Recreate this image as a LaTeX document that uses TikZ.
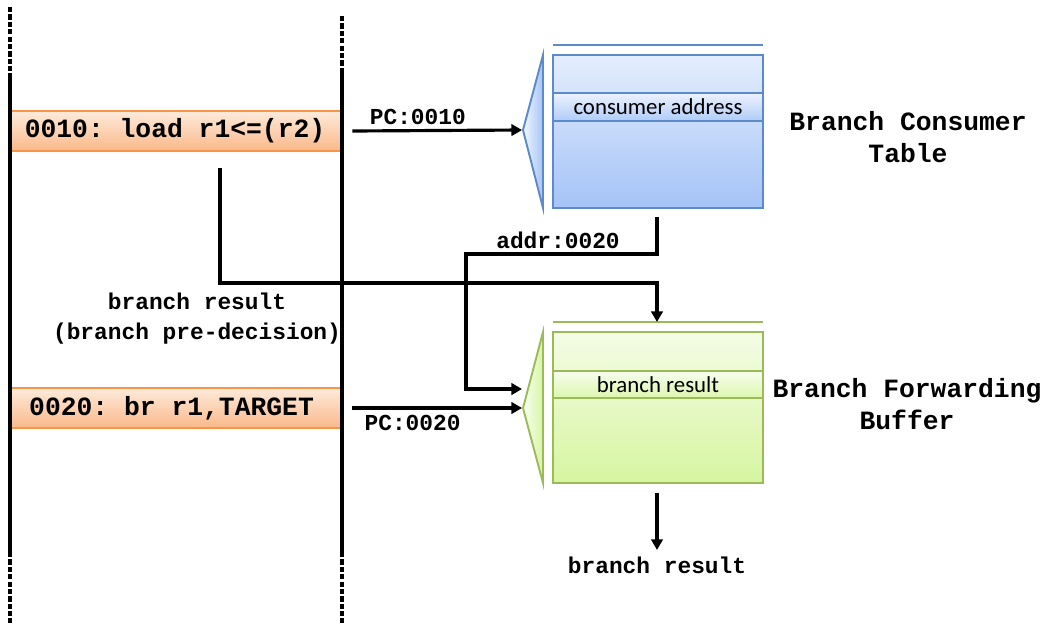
\documentclass[tikz,border=0pt]{standalone}
\usepackage{fontspec}
\setmainfont{Liberation Serif}
\newfontfamily\codefont{Liberation Mono}
\newfontfamily\cellfont{Carlito}
\usetikzlibrary{arrows.meta,positioning,calc}

\definecolor{bctborder}{HTML}{5B8BC9}
\definecolor{bcttop}{HTML}{E4EDFD}
\definecolor{bctbottom}{HTML}{A4C3F7}
\definecolor{bfbborder}{HTML}{9BBB59}
\definecolor{bfbtop}{HTML}{F4FCE6}
\definecolor{bfbbottom}{HTML}{D6F5A0}
\definecolor{insborder}{HTML}{F79646}
\definecolor{instop}{HTML}{FDEADA}
\definecolor{insbottom}{HTML}{FAB98A}

\begin{document}
\begin{tikzpicture}[x=0.02cm,y=-0.02cm]
    \tikzstyle{wire}=[line width=1.8pt, -{Triangle[length=6pt,width=6.5pt]}]
    \tikzstyle{timeline}=[line width=2pt]
    \tikzstyle{dashpart}=[line width=2pt, dash pattern=on 3pt off 1.2pt]
    \tikzstyle{code}=[font=\codefont\bfseries\frenchspacing\fontsize{15}{18}\selectfont];
    \tikzstyle{lbl}=[font=\codefont\bfseries\frenchspacing\fontsize{13}{17}\selectfont, align=center];
    \tikzstyle{cell}=[font=\cellfont\fontsize{13}{15}\selectfont];
    \useasboundingbox (0,0) rectangle (1050,623);

    % instructions
    \node[minimum width=6.6cm, minimum height=0.78cm, top color=instop, bottom color=insbottom,
        inner sep=0pt] (ins1) at (175,131) {};
    \draw[insborder, line width=1.2pt] (ins1.north west) -- (ins1.north east)
        (ins1.south west) -- (ins1.south east);
    \node[code] at (ins1) {0010: load r1<=(r2)};
    \node[minimum width=6.6cm, minimum height=0.78cm, top color=instop, bottom color=insbottom,
        inner sep=0pt] (ins2) at (175,408) {};
    \draw[insborder, line width=1.2pt] (ins2.north west) -- (ins2.north east)
        (ins2.south west) -- (ins2.south east);
    \node[code, anchor=west] at (23,408) {0020: br r1,TARGET};

    % time lines
    \draw[dashpart] (10,7) -- (10,76);
    \draw[timeline] (10,76) -- (10,552);
    \draw[dashpart] (10,552) -- (10,623);
    \draw[dashpart] (342,16) -- (342,72);
    \draw[timeline] (342,72) -- (342,552);
    \draw[dashpart] (342,552) -- (342,623);

    % branch consumer table
    \node[draw=bctborder, line width=1.1pt, minimum width=4.2cm, minimum height=3.06cm,
        top color=bcttop, bottom color=bctbottom, inner sep=0pt] (bct) at (658,131.5) {};
    \node[draw=bctborder, line width=1.1pt, minimum width=4.2cm, minimum height=0.56cm,
        top color=bcttop!70!white, bottom color=bctbottom!80!bcttop, inner sep=0pt, cell]
        (bctrow) at (658,107) {consumer address};
    \draw[bctborder, line width=1.1pt] (553,45) -- (763,45);
    \draw[bctborder, line width=1.1pt, left color=bcttop!40!white, right color=bctbottom]
        (543,55) -- (523,130) -- (543,208) -- cycle;
    \coordinate (bctin) at (522,130);
    \node[lbl, font=\codefont\bfseries\fontsize{15}{18}\selectfont] at (908,137)
        {Branch Consumer\\Table};

    % branch forwarding buffer
    \node[draw=bfbborder, line width=1.1pt, minimum width=4.2cm, minimum height=3.02cm,
        top color=bfbtop, bottom color=bfbbottom, inner sep=0pt] (bfb) at (658,407.5) {};
    \node[draw=bfbborder, line width=1.1pt, minimum width=4.2cm, minimum height=0.54cm,
        top color=bfbtop!70!white, bottom color=bfbbottom!80!bfbtop, inner sep=0pt, cell]
        (bfbrow) at (658,384.5) {branch result};
    \draw[bfbborder, line width=1.1pt] (553,322) -- (763,322);
    \draw[bfbborder, line width=1.1pt, left color=bfbtop!40!white, right color=bfbbottom]
        (543,332) -- (523,408) -- (543,483) -- cycle;
    \coordinate (bfbin) at (522,408);
    \coordinate (bfbaddr) at (522,389);
    \coordinate (bfbtopin) at (657,322);
    \node[lbl, font=\codefont\bfseries\fontsize{15}{18}\selectfont] at (907,404)
        {Branch Forwarding\\Buffer};

    % connectors
    \draw[wire] ($(ins1.east)+(12,0)$) -- node[lbl, above=-1pt, xshift=-11pt] {PC:0010} (bctin);
    \draw[wire] ($(ins2.east)+(12,0)$) -- node[lbl, below=0pt, xshift=-14pt] {PC:0020} (bfbin);
    \coordinate (brsrc) at (220,168);
    \draw[wire] (brsrc) -- (220,283) -| (bfbtopin);
    \node[lbl] at (197,319) {branch result\\(branch pre-decision)};
    \draw[wire] ($(bct.south)+(-1,8)$) |- (466,254) |- (bfbaddr);
    \node[lbl] at (558,240) {addr:0020};
    \draw[wire] ($(bfb.south)+(-1,9)$) -- ++(0,57) node[lbl, below=0pt] {branch result};
\end{tikzpicture}
\end{document}
